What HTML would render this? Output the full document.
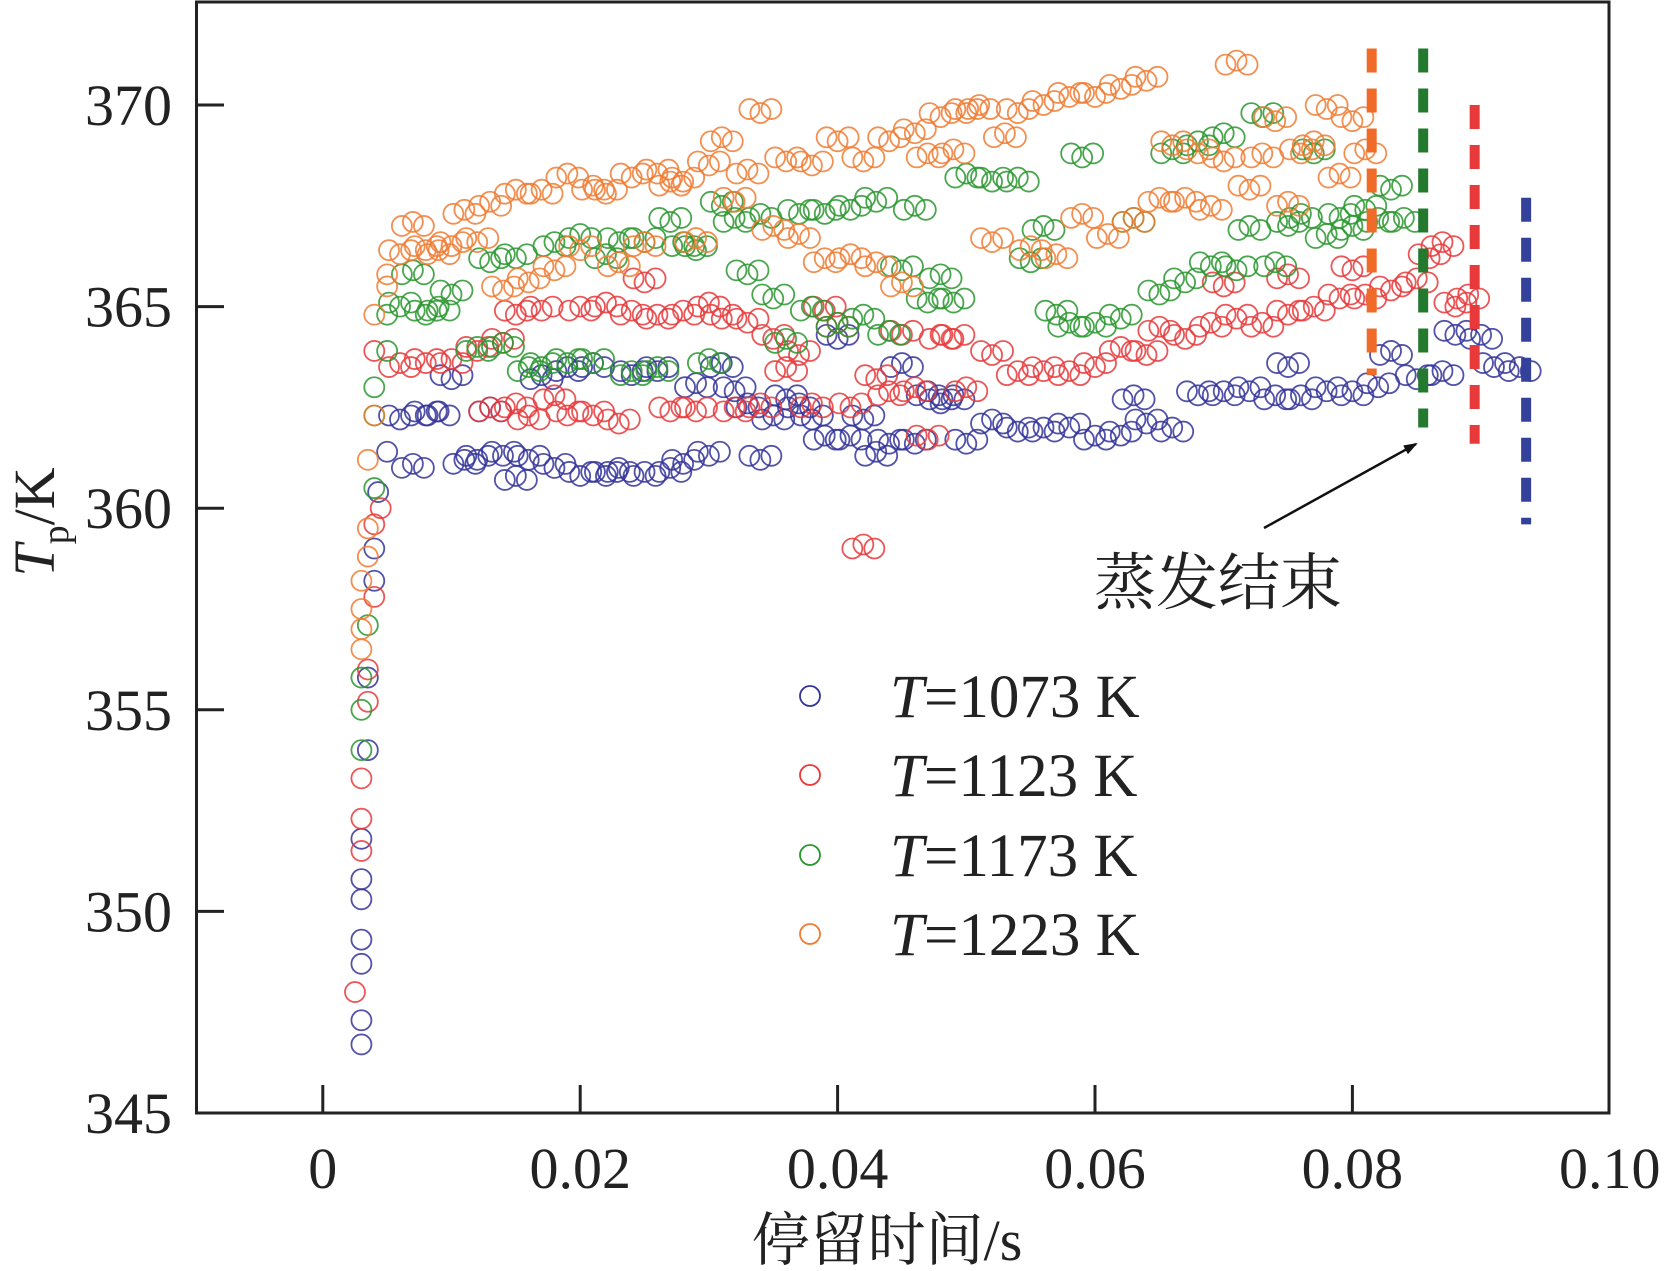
<!DOCTYPE html>
<html><head><meta charset="utf-8"><style>
body{margin:0;background:#fff}
svg{display:block}
text{font-family:"Liberation Serif","Times New Roman","Noto Serif CJK SC",serif;fill:#222}
</style></head><body>
<svg id="chart" width="1665" height="1271" viewBox="0 0 1665 1271">
<rect x="0" y="0" width="1665" height="1271" fill="#fff"/>
<g id="marks"></g>
<g id="axes"></g>
</svg>
<script>
const xTicks=[0,0.02,0.04,0.06,0.08,0.10];
const xTickLabels=["0","0.02","0.04","0.06","0.08","0.10"];
const yTicks=[345,350,355,360,365,370];
const seriesNames=["T=1073 K","T=1123 K","T=1173 K","T=1223 K"];
const seriesColors=["#34349a","#e8393b","#2a962f","#f07b32"];
const blueX=[0.003,0.003,0.003,0.003,0.003,0.003,0.003,0.0035,0.0035,0.004,0.004,0.0043,0.005,0.006,0.007,0.008,0.009,0.010,0.011,0.012,0.013,0.014,0.015,0.016,0.017,0.018,0.019,0.020,0.021,0.022,0.023,0.024,0.025,0.026,0.027,0.028,0.029,0.030,0.031,0.032,0.033,0.034,0.035,0.036,0.037,0.038,0.039,0.040,0.041,0.042,0.043,0.044,0.045,0.046,0.047,0.048,0.049,0.050,0.052,0.054,0.056,0.058,0.060,0.062,0.063,0.064,0.066,0.068,0.070,0.072,0.074,0.075,0.076,0.078,0.080,0.082,0.083,0.085,0.087,0.088,0.090,0.091,0.093];
const blueY=[346.7,347.3,348.7,349.3,350.3,350.8,351.8,354,355.8,358.2,359,360.4,361.4,362.2,361.1,362.3,362.4,363.2,361.2,361.2,362.5,361.3,360.8,361.2,363.3,361,363.5,360.8,363.6,360.8,361,363.3,360.9,363.4,361,361.1,363.1,361.3,363.6,362.9,362.6,361.2,362.3,362.7,362.6,362.2,361.8,364.2,361.8,362.2,361.4,361.6,363.6,361.6,362.9,362.6,362.8,361.6,362.2,361.9,362,362,361.8,361.8,362.8,362.1,362,362.8,362.9,362.9,362.8,363.5,362.8,362.9,362.9,363,363.9,363.2,363.4,364.3,364.3,363.5,363.5];
const redX=[0.0025,0.003,0.003,0.003,0.0035,0.0035,0.004,0.004,0.0045,0.004,0.006,0.008,0.010,0.012,0.013,0.014,0.015,0.015,0.016,0.017,0.018,0.019,0.020,0.021,0.022,0.023,0.024,0.025,0.026,0.027,0.028,0.029,0.030,0.031,0.032,0.033,0.034,0.035,0.036,0.037,0.038,0.039,0.040,0.041,0.042,0.043,0.044,0.045,0.046,0.047,0.048,0.049,0.050,0.052,0.054,0.056,0.058,0.060,0.062,0.064,0.065,0.067,0.069,0.071,0.073,0.075,0.077,0.079,0.081,0.083,0.085,0.086,0.087,0.088,0.089,0.070,0.075,0.080];
const redY=[348,351.5,352.3,353.3,355.2,356,357.8,359.6,360,363.9,363.6,363.6,363.7,363.9,362.5,364.1,362.6,364.8,362.3,364.9,362.8,362.3,365,362.3,365.1,362.1,364.9,365.6,364.8,362.4,364.9,362.4,365.1,364.7,362.5,364.6,362.6,364.2,363.5,363.8,362.6,364.9,364.6,362.5,359.1,363.2,362.9,364.3,363,361.7,364.3,364.2,363,363.8,363.4,363.4,363.4,363.5,364,363.8,364.5,364.2,364.6,364.7,364.6,364.8,365,365.2,365.3,365.4,365.7,366.2,366.6,365,365.3,365.5,365.8,365.9];
const greenX=[0.003,0.003,0.003,0.0035,0.004,0.004,0.004,0.005,0.005,0.006,0.007,0.008,0.009,0.010,0.012,0.013,0.014,0.015,0.016,0.017,0.018,0.019,0.020,0.021,0.022,0.023,0.024,0.025,0.026,0.027,0.028,0.029,0.030,0.031,0.032,0.033,0.034,0.035,0.036,0.037,0.038,0.039,0.040,0.041,0.042,0.043,0.044,0.045,0.046,0.047,0.048,0.049,0.050,0.052,0.054,0.055,0.056,0.057,0.058,0.059,0.060,0.062,0.063,0.065,0.066,0.067,0.068,0.069,0.070,0.071,0.072,0.073,0.074,0.075,0.076,0.077,0.078,0.079,0.080,0.081,0.082,0.083,0.084];
const greenY=[354,355,355.8,357.1,360.5,362.3,363,363.9,364.8,365,365.9,364.8,365,365.3,364,366.1,364.1,366.2,363.5,363.5,366.6,363.6,366.8,363.6,366.3,366.6,363.4,366.6,363.5,367.1,366.6,366.4,363.7,367.5,367.2,365.8,367.3,365.2,364.2,367.3,365,367.3,364.6,367.4,364.8,367.6,364.4,365.9,367.5,365.1,365.8,365.1,368.3,368.1,368.2,366.1,367,364.8,364.6,368.7,364.6,364.7,367.2,365.3,368.9,365.6,369.1,366,369.3,365.9,367,369.7,366.1,367,367.3,368.8,366.8,367.2,367,367.4,367.2,367.9,367.2];
const orangeX=[0.003,0.003,0.003,0.003,0.0035,0.0035,0.0035,0.004,0.004,0.005,0.005,0.006,0.007,0.008,0.009,0.010,0.011,0.012,0.013,0.014,0.015,0.016,0.017,0.018,0.019,0.020,0.021,0.022,0.023,0.024,0.025,0.026,0.027,0.028,0.029,0.030,0.031,0.032,0.033,0.034,0.035,0.036,0.037,0.038,0.039,0.040,0.041,0.042,0.043,0.044,0.045,0.046,0.047,0.048,0.049,0.050,0.051,0.052,0.053,0.054,0.055,0.056,0.057,0.058,0.059,0.060,0.061,0.062,0.063,0.064,0.065,0.066,0.067,0.068,0.069,0.070,0.071,0.072,0.073,0.074,0.075,0.076,0.077,0.078,0.079,0.080,0.081];
const orangeY=[356.5,357,357.5,358.2,358.8,359.5,361.2,362.3,364.8,365.5,365.8,366.3,367.1,366.4,366.4,366.5,367.4,366.6,367.6,365.4,367.9,365.6,367.9,365.9,368.3,366.4,368,367.8,366.1,368.2,366.6,368.3,368.1,368.1,366.7,368.5,369.2,367.6,368.4,369.8,367,368.6,366.8,368.5,366.2,369.1,366.3,368.6,366.1,369.1,365.6,369.3,368.8,369.7,368.9,369.8,370,366.6,369.3,369.8,366.5,370,366.3,370.2,367.3,370.2,366.8,370.4,367.2,370.6,367.7,369,367.7,368.8,367.5,368.6,371.1,367.9,368.8,369.6,367.6,368.8,369.1,369.9,368.3,369.6,368.9];
const endX=[0.0815,0.0855,0.0895,0.0935];
const endTop=[371.4,371.4,370,367.7];
const endBottom=[363.3,362,361.6,359.6];
const endColors=["#f06a28","#237a2e","#e8393b","#34419a"];

const X0=322.8,XS=12870,Y0=1113,YS=40.32;
const sx=v=>X0+v*XS;
const sy=v=>Y0-(v-345)*YS;
const NS="http://www.w3.org/2000/svg";
function mk(tag,attrs,parent){const e=document.createElementNS(NS,tag);for(const k in attrs)e.setAttribute(k,attrs[k]);parent.appendChild(e);return e;}
const marks=document.getElementById('marks');
const axes=document.getElementById('axes');
const all=[[blueX,blueY],[redX,redY],[greenX,greenY],[orangeX,orangeY]];
const offs=[-11,0,11];
all.forEach((s,si)=>{
  const g=mk('g',{},marks);
  
  
  s[0].forEach((xv,i)=>{
    const step=(s[0][i]<0.0055)?[0]:offs;
    step.forEach(o=>{
      const c=mk('circle',{cx:sx(xv)+o,cy:sy(s[1][i])+(o?((i%2)?-4:4):0),r:10,fill:'none',stroke:seriesColors[si],'stroke-width':1.8,'stroke-opacity':0.85},g);
      
      
    });
  });
});
endX.forEach((xv,i)=>{
  const l=mk('line',{x1:sx(xv),x2:sx(xv),y1:sy(endTop[i]),y2:sy(endBottom[i]),stroke:endColors[i],'stroke-width':10,'stroke-dasharray':'24 16','stroke-linecap':'butt'},marks);
  
  
});
const fr=mk('rect',{x:196.5,y:2,width:1412.5,height:1111,fill:'none',stroke:'#222','stroke-width':3},axes);


xTicks.forEach((v,i)=>{
  if(i<xTicks.length-1){const t=mk('line',{x1:sx(v),x2:sx(v),y1:Y0,y2:Y0-28,stroke:'#222','stroke-width':3},axes);
  
  }
  const tx=mk('text',{x:sx(v),y:1188,'text-anchor':'middle','font-size':58},axes);
  tx.textContent=xTickLabels[i];
  
  
});
yTicks.forEach(v=>{
  const t=mk('line',{x1:196.5,x2:224,y1:sy(v),y2:sy(v),stroke:'#222','stroke-width':3},axes);
  
  
  const tx=mk('text',{x:172,y:sy(v)+20,'text-anchor':'end','font-size':58},axes);
  tx.textContent=String(v);
  
  
});
const legY=[696,775,855,934];
seriesNames.forEach((n,i)=>{
  const c=mk('circle',{cx:810,cy:legY[i],r:10,fill:'none',stroke:seriesColors[i],'stroke-width':1.8},axes);
  
  
  const t=mk('text',{x:890,y:legY[i]+21,'font-size':61},axes);
  t.innerHTML='<tspan font-style="italic">T</tspan>'+n.slice(1);
  
  
});
</script>
<script>
const svg=document.getElementById('chart');
const NS2="http://www.w3.org/2000/svg";
const g2=document.createElementNS(NS2,'g');
svg.appendChild(g2);
g2.innerHTML='<defs><marker id="ah" markerWidth="14" markerHeight="10" refX="12" refY="5" orient="auto" markerUnits="userSpaceOnUse"><path d="M0,0 L14,5 L0,10 z" fill="#111"/></marker></defs>'+
'<line x1="1264" y1="528" x2="1416" y2="444" stroke="#111" stroke-width="2.5" marker-end="url(#ah)"/>'+
'<text x="1094" y="604" font-size="62">蒸发结束</text>'+
'<text x="887" y="1260" text-anchor="middle" font-size="58">停留时间/s</text>'+
'<text transform="translate(54,522) rotate(-90)" text-anchor="middle" font-size="58"><tspan font-style="italic">T</tspan><tspan font-size="38" dy="14">p</tspan><tspan dy="-14">/K</tspan></text>';
</script>
</body></html>
